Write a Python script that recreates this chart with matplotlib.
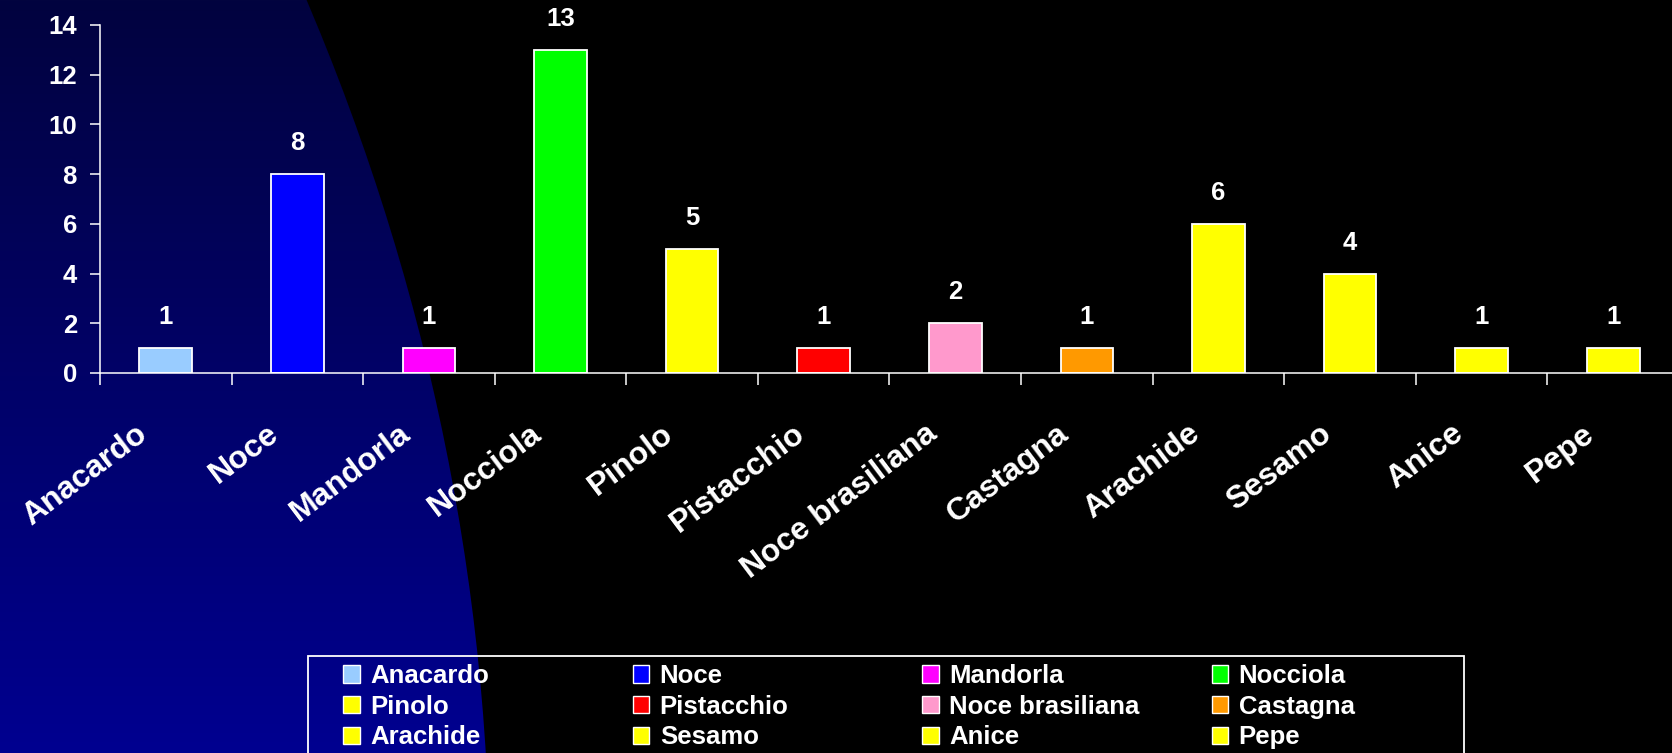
import numpy as np
import matplotlib
matplotlib.use("Agg")
import matplotlib.pyplot as plt
from matplotlib.colors import LinearSegmentedColormap
from matplotlib.patches import Ellipse, Patch, Rectangle
from matplotlib.transforms import ScaledTranslation, blended_transform_factory

# -- Data
categories = ["Anacardo", "Noce", "Mandorla", "Nocciola", "Pinolo", "Pistacchio",
              "Noce brasiliana", "Castagna", "Arachide", "Sesamo", "Anice", "Pepe"]
counts = [1, 8, 1, 13, 5, 1, 2, 1, 6, 4, 1, 1]
colors = ["#99CCFF", "#0000FF", "#FF00FF", "#00FF00", "#FFFF00", "#FF0000",
          "#FF99CC", "#FF9900", "#FFFF00", "#FFFF00", "#FFFF00", "#FFFF00"]
yticks = [0, 2, 4, 6, 8, 10, 12, 14]

# -- Style
W, H, DPI = 1672, 753, 100
FONT = "Liberation Sans"
plt.rcParams["font.family"] = [FONT, "DejaVu Sans"]
plt.rcParams["font.weight"] = "bold"

fig = plt.figure(figsize=(W / DPI, H / DPI), dpi=DPI, facecolor="black")

# background: black slide with a blue gradient swoosh on the left
bg = fig.add_axes([0, 0, 1, 1], zorder=0)
bg.set_axis_off()
grad = np.linspace(0, 1, 256).reshape(-1, 1)
cmap = LinearSegmentedColormap.from_list("slide", ["#02033F", "#000090"])
im = bg.imshow(grad, cmap=cmap, aspect="auto", extent=[0, 1, 0, 1],
               transform=bg.transAxes)
swoosh = Ellipse((-25.10, -1.37), 60.0, 51.7, transform=fig.dpi_scale_trans)
im.set_clip_path(swoosh)

# -- Chart
ax = fig.add_axes([100 / W, (H - 373) / H, (1679 - 100) / W, (373 - 25) / H], zorder=2)
ax.set_facecolor("none")
x = np.arange(len(categories))
ax.bar(x, counts, width=0.4, color=colors, edgecolor="white", linewidth=1.3)

for xi, v in zip(x, counts):
    ax.annotate(str(v), (xi, v), xytext=(0, 22.3), textcoords="offset points",
                ha="center", va="center", color="white", fontsize=18.5, fontweight="bold")

ax.set_xlim(-0.5, len(categories) - 0.5)
ax.set_ylim(0, 14)
ax.set_yticks(yticks)
ax.set_xticks(np.arange(len(categories) + 1) - 0.5)
ax.set_xticklabels([])
ax.tick_params(axis="y", colors="white", length=7.2, width=1.1, pad=9.4,
               labelsize=18.5)
ax.tick_params(axis="x", colors="white", length=8.6, width=1.1)
for lbl in ax.get_yticklabels():
    lbl.set_fontweight("bold")
for side in ["top", "right"]:
    ax.spines[side].set_visible(False)
for side in ["left", "bottom"]:
    ax.spines[side].set_color("white")
    ax.spines[side].set_linewidth(1.1)

# slanted category names, right end just left of each category centre
lab_tr = blended_transform_factory(ax.transData, ax.transAxes) + \
    ScaledTranslation(-17 / DPI, -64 / DPI, fig.dpi_scale_trans)
for xi, name in zip(x, categories):
    ax.text(xi, 0, name, transform=lab_tr, rotation=37, ha="right", va="baseline",
            rotation_mode="anchor", color="white", fontsize=23, fontweight="bold")

# -- Legend: four evenly spaced columns inside one white frame
handles = [Patch(facecolor=c, edgecolor="white", linewidth=1.0) for c in colors]
ncol = 4
for col in range(ncol):
    idx = list(range(col, len(categories), ncol))
    leg = fig.legend([handles[i] for i in idx], [categories[i] for i in idx],
                     loc="upper left",
                     bbox_to_anchor=((343 + 289.5 * col) / W, 1 - 664 / H),
                     frameon=False, borderpad=0, borderaxespad=0,
                     handlelength=0.66, handleheight=0.66, handletextpad=0.4,
                     labelspacing=0.26, labelcolor="white",
                     prop={"family": FONT, "weight": "bold", "size": 18.5})
    leg.set_zorder(3)

fig.add_artist(Rectangle((308 / W, -0.05), (1464 - 308) / W, 0.05 + (H - 656) / H,
                         transform=fig.transFigure, facecolor="none",
                         edgecolor="white", linewidth=1.3, zorder=3))

fig.savefig("out.png", dpi=DPI, facecolor=fig.get_facecolor())
